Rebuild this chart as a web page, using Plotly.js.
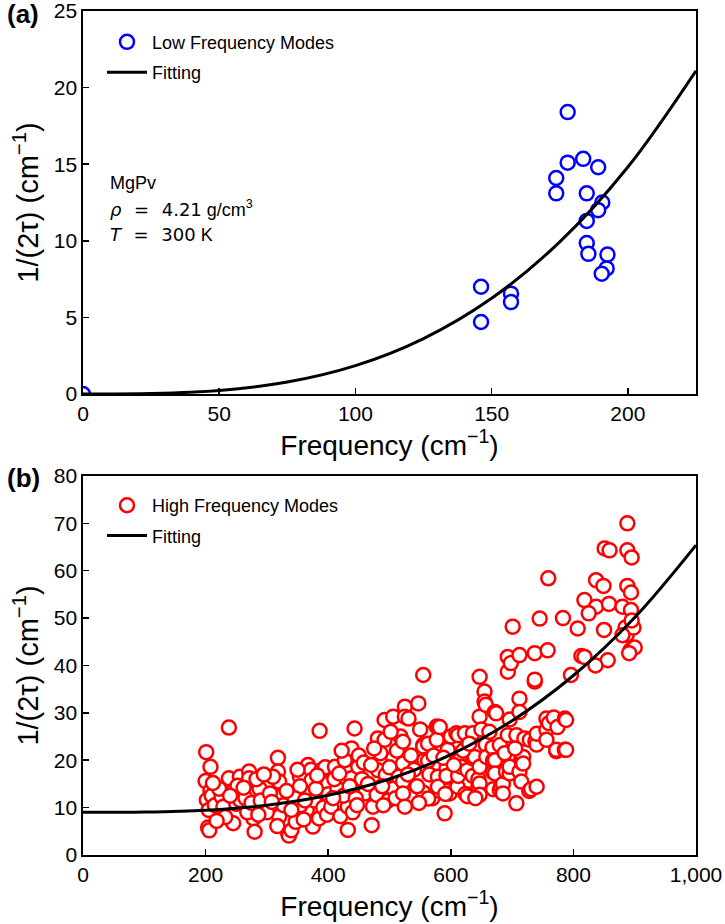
<!DOCTYPE html>
<html>
<head>
<meta charset="utf-8">
<script src="https://cdn.plot.ly/plotly-3.0.1.min.js"></script>
<style>html,body{margin:0;padding:0;background:#fff;}#chart{width:725px;height:924px;}</style>
</head>
<body>
<div id="chart"></div>
<script>
// ---- Panel (a): low frequency modes ----
const lowFreqX = [0, 146.1, 146.1, 157.1, 157.1, 177.9, 177.9, 183.6, 189.1, 173.7, 173.7, 184.9, 190.6, 189.1, 184.9, 184.9, 185.5, 192.5, 192.2, 190.4];
const lowFreqY = [0, 7.0, 4.7, 6.55, 6.0, 18.4, 15.1, 15.35, 14.8, 14.1, 13.1, 13.1, 12.5, 12.0, 11.3, 9.85, 9.15, 9.1, 8.2, 7.85];
const lowFitX = [0, 25, 50, 75, 100, 125, 150, 175, 200, 225];
const lowFitY = [0, 0.03, 0.23, 0.78, 1.85, 3.62, 6.25, 9.93, 14.82, 21.1];

// ---- Panel (b): high frequency modes ----
const highFreqX = [
 201,208,200,202,204,206,208,205,210,215,226,222,238,238,245,245,229,232,218,250,256,256,252,240,212,
 271,271,280,278,280,297,288,283,318,318,320,322,320,317,265,268,275,290,300,305,310,295,327,262,286,308,
 335,336,340,347,354,367,372,373,367,365,375,355,354,386,389,400,385,377,400,345,340,360,380,392,395,382,350,362,398,332,
 405,411,420,427,432,432,438,438,443,449,460,415,425,445,455,410,418,440,450,435,458,422,447,408,
 473,471,479,481,481,492,492,494,498,506,506,506,465,470,485,488,500,510,515,475,512,490,518,502,
 522,522,522,522,525,525,525,531,540,547,555,555,555,557,555,565,565,570,577,582,585,563,563,563,579,577,595,595,579,579,598,590,591,593,593,582,535,545,550,530,548,572,588,600,
 609,612,614,611,612,617,623,624,627,627,636,636,636,639,645,645,647,647,647,647,647,655,655,657,657,658,620,630,605,650,640,
 668,669,669,669,672,674,672,672,680,680,682,685,685,690,693,693,698,693,696,696,696,696,701,707,707,712,712,712,712,715,716,715,718,718,720,663,688,705,
 728,729,731,737,737,737,738,740,740,740,745,756,756,756,758,759,760,783,768,772,772,774,786,786,788,788,796,
 888,851,859,888,895,837,849,888,894,818,837,858,880,894,825,807,850,885,887,898,880,813,818,856,893,900,836,891,895
];
const highFreqY = [
 21.7,18.6,15.6,11.6,5.8,5.2,13.6,9.5,12.5,10.5,12.3,14.0,16.2,26.9,6.7,13.5,10.2,8.0,7.2,10.8,11.6,16.5,14.6,12.5,15.2,
 17.6,16.2,13.0,7.7,4.9,10.2,14.0,16.0,20.5,17.6,15.5,12.3,8.1,6.1,12.0,9.0,11.0,11.5,9.0,13.0,16.5,17.0,10.5,14.2,8.5,11.2,
 4.4,4.1,5.2,7.0,16.5,19.0,18.0,15.8,13.0,9.5,6.0,10.5,14.5,26.2,17.9,15.1,7.7,11.5,12.8,12.0,9.5,7.5,14.0,10.0,18.5,16.8,18.0,11.5,8.5,13.5,
 10.2,18.6,8.2,20.0,10.2,5.3,22.5,16.2,26.7,18.6,13.0,14.0,12.5,12.0,16.0,16.0,17.2,9.0,21.0,14.5,19.5,22.0,10.5,12.0,
 10.2,6.3,12.7,17.9,24.6,28.5,24.3,16.9,11.5,29.2,20.4,14.0,15.0,19.0,21.5,14.5,18.5,12.0,16.5,22.5,22.0,10.5,25.0,26.0,
 23.9,19.3,15.5,13.0,10.2,31.3,29.2,28.8,18.0,32.0,38.0,23.2,22.9,20.0,13.2,25.6,17.0,12.0,27.1,13.5,16.2,23.5,19.9,11.9,27.0,24.3,22.2,16.5,16.5,14.4,13.0,8.8,12.9,18.3,16.7,27.0,21.0,14.5,26.5,17.0,11.0,21.0,20.5,25.0,
 25.7,25.3,20.0,14.4,16.7,18.6,25.7,12.9,17.9,12.4,25.7,20.4,16.7,20.7,16.0,14.4,37.6,29.2,18.6,15.1,12.7,34.5,32.4,31.7,23.3,20.7,22.0,23.5,19.0,26.5,12.0,
 22.7,20.0,17.5,13.9,30.2,29.9,20.0,17.2,23.2,13.7,14.4,15.0,13.0,17.6,41.8,38.7,40.5,25.3,28.6,20.7,17.2,18.6,48.2,10.9,25.3,42.2,33.0,30.2,17.6,20.4,19.5,15.5,20.7,19.3,24.6,26.0,21.5,22.5,
 13.5,24.3,13.9,42.6,36.6,37.0,24.0,23.3,25.6,14.4,49.9,28.8,26.4,24.3,43.2,58.4,27.8,50.0,29.0,21.9,22.2,27.0,28.8,22.2,28.5,22.2,38.0,
 70.0,64.7,64.3,64.3,62.8,58.0,56.8,56.8,55.4,53.8,52.4,53.0,52.4,51.7,51.0,47.8,47.5,48.0,46.5,48.0,46.4,42.0,41.8,41.1,43.2,43.8,40.0,42.6,49.5
];
const highFitX = [0, 100, 200, 300, 400, 500, 600, 700, 800, 900, 1000];
const highFitY = [9.0, 9.06, 9.45, 10.52, 12.61, 16.05, 21.18, 28.34, 37.88, 50.12, 65.4];

const FONT = 'Liberation Sans, Arial, sans-serif';

const traces = [
  {x: lowFreqX, y: lowFreqY, type: 'scatter', mode: 'markers', name: 'Low Frequency Modes',
   xaxis: 'x', yaxis: 'y', legend: 'legend', legendgroup: 'a1',
   marker: {symbol: 'circle', size: 14, color: '#ffffff', line: {color: '#0000ff', width: 2.5}}},
  {x: lowFitX, y: lowFitY, type: 'scatter', mode: 'lines', name: 'Fitting',
   xaxis: 'x', yaxis: 'y', legend: 'legend', legendgroup: 'a2',
   line: {color: '#000000', width: 3, shape: 'spline'}},
  {x: highFreqX, y: highFreqY, type: 'scatter', mode: 'markers', name: 'High Frequency Modes',
   xaxis: 'x2', yaxis: 'y2', legend: 'legend2', legendgroup: 'b1',
   marker: {symbol: 'circle', size: 14, color: '#ffffff', line: {color: '#ff0000', width: 2.5}}},
  {x: highFitX, y: highFitY, type: 'scatter', mode: 'lines', name: 'Fitting',
   xaxis: 'x2', yaxis: 'y2', legend: 'legend2', legendgroup: 'b2',
   line: {color: '#000000', width: 3, shape: 'spline'}}
];

const axBase = {
  showline: true, mirror: true, linecolor: '#000', linewidth: 1.6,
  ticks: 'inside', ticklen: 6, tickwidth: 1.5, tickcolor: '#000',
  showgrid: false, zeroline: false, ticklabeloverflow: 'allow',
  tickfont: {family: FONT, size: 21, color: '#000'}
};
const xTitle = {text: 'Frequency (cm<sup>\u22121</sup>)', font: {family: FONT, size: 28, color: '#000'}, standoff: 4};
const yTitle = {text: '1/(2\u03c4) (cm<sup>\u22121</sup>)', font: {family: FONT, size: 29, color: '#000'}, standoff: 6};

const legBase = {xanchor: 'left', yanchor: 'top', bgcolor: 'rgba(0,0,0,0)', borderwidth: 0,
  font: {family: FONT, size: 18, color: '#000'}, tracegroupgap: 4, traceorder: 'grouped', itemwidth: 40};

const SP = '\u2002\u2009';
const layout = {
  width: 725, height: 924,
  margin: {l: 83, r: 29, t: 11, b: 69},
  paper_bgcolor: '#fff', plot_bgcolor: '#fff',
  font: {family: FONT, color: '#000'},
  xaxis: Object.assign({}, axBase, {domain: [0, 1], anchor: 'y', range: [0, 225], dtick: 50, tick0: 0, title: xTitle}),
  yaxis: Object.assign({}, axBase, {domain: [0.5462, 1], anchor: 'x', range: [0, 25], dtick: 5, tick0: 0, title: yTitle}),
  xaxis2: Object.assign({}, axBase, {domain: [0, 1], anchor: 'y2', range: [0, 1000], dtick: 200, tick0: 0, tickformat: ',d', title: xTitle}),
  yaxis2: Object.assign({}, axBase, {domain: [0, 0.4491], anchor: 'x2', range: [0, 80], dtick: 10, tick0: 0, title: yTitle}),
  legend: Object.assign({}, legBase, {x: 0.031, y: 0.985}),
  legend2: Object.assign({}, legBase, {x: 0.031, y: 0.436}),
  annotations: [
    {text: '<b>(a)</b>', xref: 'paper', yref: 'paper', x: -0.128, y: (855 - 14) / 844, xanchor: 'left', yanchor: 'middle',
     showarrow: false, font: {family: FONT, size: 26, color: '#000'}},
    {text: '<b>(b)</b>', xref: 'paper', yref: 'paper', x: -0.128, y: (855 - 478) / 844, xanchor: 'left', yanchor: 'middle',
     showarrow: false, font: {family: FONT, size: 26, color: '#000'}},
    {text: 'MgPv', xref: 'x', yref: 'y', x: 9, y: 13.8, xanchor: 'left', yanchor: 'middle',
     showarrow: false, font: {family: FONT, size: 18, color: '#000'}},
    {text: '<span style="font-family:DejaVu Sans"><i>\u03c1</i>' + SP + '=' + SP + '4.21</span> g/cm<sup>3</sup>', xref: 'x', yref: 'y', x: 9, y: 12.1, xanchor: 'left', yanchor: 'middle',
     showarrow: false, font: {family: FONT, size: 18, color: '#000'}},
    {text: '<span style="font-family:DejaVu Sans"><i>T</i>' + SP + '=' + SP + '300</span> K', xref: 'x', yref: 'y', x: 9, y: 10.4, xanchor: 'left', yanchor: 'middle',
     showarrow: false, font: {family: FONT, size: 18, color: '#000'}}
  ],
  showlegend: true
};

Plotly.newPlot('chart', traces, layout, {displayModeBar: false, staticPlot: true});
</script>
</body>
</html>
